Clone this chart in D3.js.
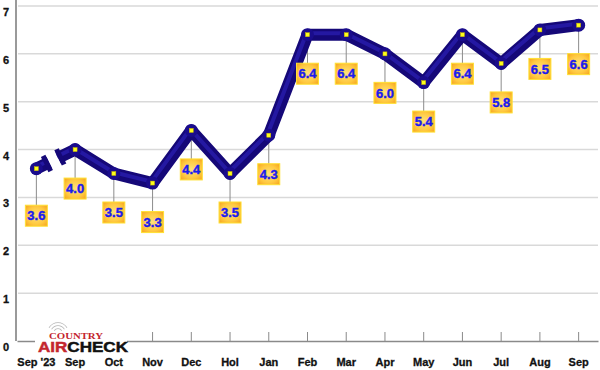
<!DOCTYPE html>
<html><head><meta charset="utf-8">
<script src="https://cdn.jsdelivr.net/npm/d3@7"></script>
<style>body{margin:0;background:#fff}svg{display:block}</style>
</head><body>
<svg id="c" width="600" height="370"></svg>
<script>
const categories = ["Sep '23","Sep","Oct","Nov","Dec","Hol","Jan","Feb","Mar","Apr","May","Jun","Jul","Aug","Sep"];
const values = [3.6,4.0,3.5,3.3,4.4,3.5,4.3,6.4,6.4,6.0,5.4,6.4,5.8,6.5,6.6];
const yTicks = [0,1,2,3,4,5,6,7];

const svg = d3.select("#c");
const x = d3.scaleBand().domain(d3.range(categories.length)).range([17,598]);
const cx = i => x(i) + x.bandwidth()/2;
const y = d3.scaleLinear().domain([0,7]).range([341,6]);

const defs = svg.append("defs");
const rg = defs.append("radialGradient").attr("id","box").attr("cx","50%").attr("cy","50%").attr("r","70%");
rg.append("stop").attr("offset","0%").attr("stop-color","#ffe27a");
rg.append("stop").attr("offset","60%").attr("stop-color","#ffc940");
rg.append("stop").attr("offset","100%").attr("stop-color","#f5a11c");

// gridlines
svg.append("g").selectAll("line").data(yTicks.filter(d=>d>0)).join("line")
  .attr("x1",18).attr("x2",598).attr("y1",d=>y(d)).attr("y2",d=>y(d))
  .attr("stroke","#d9d9d9").attr("stroke-width",1.5);

// y axis line
svg.append("line").attr("x1",16).attr("x2",16).attr("y1",0).attr("y2",341)
  .attr("stroke","#9a9a9a").attr("stroke-width",2);

// y labels
svg.append("g").selectAll("text").data(yTicks).join("text")
  .attr("x",6).attr("y",d=>y(d)+10).attr("text-anchor","middle")
  .attr("font-family","Liberation Sans, Arial, sans-serif").attr("font-weight","bold")
  .attr("font-size",11).attr("fill","#111").attr("stroke","#111").attr("stroke-width",0.3).text(d=>d);

// x axis
const xAxis = d3.axisBottom(x).tickSizeInner(-9).tickSizeOuter(0).tickPadding(17)
  .tickFormat(i=>categories[i]);
const gx = svg.append("g").attr("transform","translate(0,341)").call(xAxis);
gx.select(".domain").attr("stroke","#8a8a8a").attr("stroke-width",1.5);
gx.selectAll(".tick line").attr("stroke","#8a8a8a");
gx.selectAll(".tick text").attr("font-family","Liberation Sans, Arial, sans-serif")
  .attr("font-weight","bold").attr("font-size",11).attr("fill","#111")
  .attr("stroke","#111").attr("stroke-width",0.3);

const pts = values.map((v,i)=>[cx(i), y(v)]);

// leader lines
const off = i => i===0 ? 47 : 39;
svg.append("g").selectAll("line").data(pts).join("line")
  .attr("x1",d=>d[0]).attr("x2",d=>d[0]).attr("y1",d=>d[1]).attr("y2",(d,i)=>d[1]+off(i)-10)
  .attr("stroke","#8c8c8c").attr("stroke-width",1);

// line with break between first two points
const p0 = pts[0], p1 = pts[1];
const lerp = t => [p0[0]+(p1[0]-p0[0])*t, p0[1]+(p1[1]-p0[1])*t];
const b1 = lerp(0.33), b2 = lerp(0.56);
const line = d3.line();
const ang = Math.atan2(p1[1]-p0[1], p1[0]-p0[0])*180/Math.PI;

const lg = svg.append("g");
function tube(d, cap){
  lg.append("path").attr("d",line(d)).attr("fill","none").attr("stroke","#150878")
    .attr("stroke-width",12).attr("stroke-linejoin","round").attr("stroke-linecap",cap);
  lg.append("path").attr("d",line(d)).attr("fill","none").attr("stroke","#2a1eb0")
    .attr("stroke-width",4).attr("stroke-linejoin","round").attr("stroke-linecap",cap)
    .attr("transform","translate(-1,-1.5)").attr("opacity",0.75);
}
lg.append("circle").attr("cx",p0[0]).attr("cy",p0[1]).attr("r",6).attr("fill","#150878");
tube([p0,b1],"butt");
tube([b2, ...pts.slice(1)],"butt");
lg.append("circle").attr("cx",pts[pts.length-1][0]).attr("cy",pts[pts.length-1][1]).attr("r",6).attr("fill","#150878");
// break caps
[b1,b2].forEach((b,k)=>{
  lg.append("rect").attr("x",k===0?-5:0).attr("y",-8.5).attr("width",5).attr("height",17)
    .attr("fill","#150878")
    .attr("transform",`translate(${b[0]},${b[1]}) rotate(${ang})`);
});
// joints
lg.selectAll(".j").data(pts).join("circle").attr("class","j")
  .attr("cx",d=>d[0]).attr("cy",d=>d[1]).attr("r",6.5).attr("fill","#1a0c8c");
// markers
lg.selectAll(".m").data(pts).join("rect").attr("class","m")
  .attr("x",d=>d[0]-2).attr("y",d=>d[1]-2).attr("width",4).attr("height",4)
  .attr("fill","#ffff1a").attr("stroke","#c8b400").attr("stroke-width",0.5);

// label boxes
const lb = svg.append("g").selectAll("g").data(values).join("g")
  .attr("transform",(d,i)=>`translate(${pts[i][0]},${pts[i][1]+off(i)})`);
lb.append("rect").attr("x",-11).attr("y",-10.5).attr("width",22).attr("height",21)
  .attr("fill","url(#box)").attr("stroke","#ffe033").attr("stroke-width",1);
lb.append("text").attr("text-anchor","middle").attr("y",4.7)
  .attr("font-family","Liberation Sans, Arial, sans-serif").attr("font-weight","bold")
  .attr("font-size",13).attr("fill","#1b1bef").attr("stroke","#1b1bef").attr("stroke-width",0.4)
  .text(d=>d.toFixed(1));

// logo
const logo = svg.append("g");
logo.append("rect").attr("x",35).attr("y",320).attr("width",92).attr("height",33).attr("fill","#fff");
[4,7,10].forEach(r=>{
  logo.append("path").attr("d",d3.arc()({innerRadius:r,outerRadius:r+0.8,startAngle:-Math.PI/3,endAngle:Math.PI/3}))
    .attr("transform","translate(58,333)").attr("fill","#b5b5b5");
});
logo.append("text").attr("x",49).attr("y",338.5).attr("textLength",54).attr("lengthAdjust","spacingAndGlyphs")
  .attr("font-family","Liberation Serif, serif").attr("font-weight","bold").attr("font-size",8.5)
  .attr("fill","#c4262e").text("COUNTRY");
const t = logo.append("text").attr("x",38).attr("y",352).attr("textLength",90).attr("lengthAdjust","spacingAndGlyphs")
  .attr("font-family","Liberation Sans, Arial, sans-serif").attr("font-weight","bold").attr("font-size",15.5)
  .attr("stroke-width",0.5);
t.append("tspan").attr("fill","#c4262e").attr("stroke","#c4262e").text("AIR");
t.append("tspan").attr("fill","#111").attr("stroke","#111").text("CHECK");
</script>
</body></html>
